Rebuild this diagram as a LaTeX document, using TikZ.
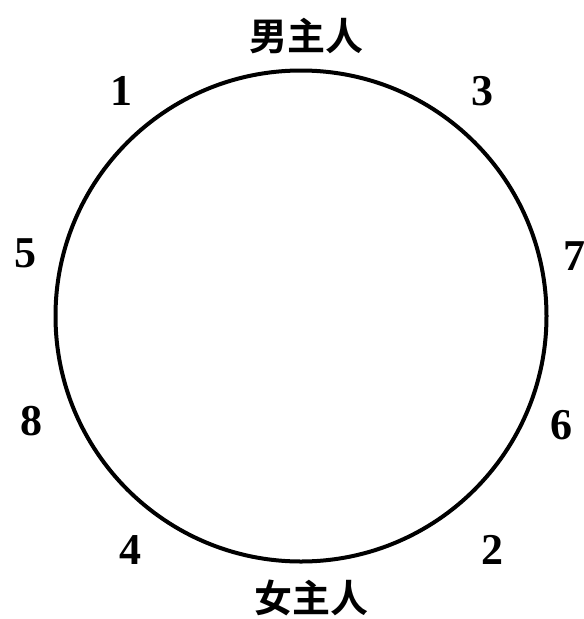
\documentclass[tikz,border=0pt]{standalone}
\usepackage{fontspec}
\setmainfont{Liberation Serif}
\newfontfamily\cjk{Noto Sans CJK SC}[BoldFont=* Bold]
\begin{document}
\begin{tikzpicture}[x=1pt,y=-1pt,
  num/.style={font=\fontsize{44}{44}\selectfont\bfseries, inner sep=0pt, anchor=center},
  role/.style={font=\cjk\fontsize{38}{38}\selectfont\bfseries, inner sep=0pt, anchor=center},
  ring/.style={draw=black, line width=4pt}]
\useasboundingbox (0,0) rectangle (584,619);
\node[ring, circle, minimum size=491pt, inner sep=0pt] (table) at (301,316) {};
\node[role] (host) at (306,36) {男主人};
\node[role] (hostess) at (311,598) {女主人};
\node[num] (n1) at (121,91) {1};
\node[num] (n3) at (482,91) {3};
\node[num] (n5) at (25,253) {5};
\node[num] (n7) at (574,256) {7};
\node[num] (n8) at (31,421) {8};
\node[num] (n6) at (561,425) {6};
\node[num] (n4) at (130,550) {4};
\node[num] (n2) at (492,550) {2};
\end{tikzpicture}
\end{document}
